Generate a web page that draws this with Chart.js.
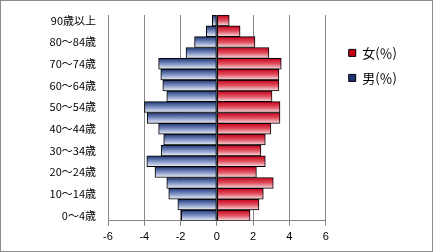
<!DOCTYPE html>
<html>
<head>
<meta charset="utf-8">
<script src="https://cdn.jsdelivr.net/npm/chart.js@4/dist/chart.umd.min.js"></script>
<style>
  body { margin: 0; background: #fff; }
  #box { width: 433px; height: 252px; border: 1px solid #8c8c8c; box-sizing: border-box; }
  canvas { display: block; }
</style>
</head>
<body>
<div id="box"><canvas id="myChart" width="431" height="250"></canvas></div>
<script>
'use strict';

let ageGroups = ['0～4歳', '5～9歳', '10～14歳', '15～19歳', '20～24歳', '25～29歳',
    '30～34歳', '35～39歳', '40～44歳', '45～49歳', '50～54歳', '55～59歳',
    '60～64歳', '65～69歳', '70～74歳', '75～79歳', '80～84歳', '85～89歳', '90歳以上'];

let maleValues = [-1.96, -2.15, -2.65, -2.76, -3.41, -3.86, -3.07, -2.93, -3.21, -3.84,
    -3.99, -2.76, -2.98, -3.09, -3.21, -1.70, -1.23, -0.58, -0.25];

let femaleValues = [1.83, 2.32, 2.56, 3.11, 2.18, 2.67, 2.43, 2.67, 2.98, 3.48,
    3.48, 3.04, 3.42, 3.42, 3.55, 2.87, 2.10, 1.28, 0.68];

let xTicks = [-6, -4, -2, 0, 2, 4, 6];

let blueStops = ['#1d3574', '#7d90c2', '#eef1f8'];
let redStops = ['#c4001a', '#e0505f', '#f9e0e3'];

function barGradient(stops, solid) {
    return function (ctx) {
        let chart = ctx.chart;
        let y = chart.scales.y;
        if (ctx.type !== 'data' || !y || !chart.chartArea) {
            return solid;
        }
        let c = y.getPixelForValue(ctx.dataIndex);
        let h = y.height / ageGroups.length;
        let g = chart.ctx.createLinearGradient(0, c - h / 2, 0, c + h / 2);
        g.addColorStop(0, stops[0]);
        g.addColorStop(0.5, stops[1]);
        g.addColorStop(1, stops[2]);
        return g;
    };
}

// nudge the legend a bit away from the plot, like the original
let legendShift = {
    id: 'legendShift',
    afterLayout: function (chart) {
        chart.legend.left += 11;
        chart.legend.right += 11;
    }
};

let ctx = document.getElementById('myChart').getContext('2d');
let myChart = new Chart(ctx, {
    type: 'bar',
    data: {
        labels: ageGroups,
        datasets: [{
            label: '男(％)',
            data: maleValues,
            backgroundColor: barGradient(blueStops, '#6478b0'),
            borderColor: '#000',
            borderWidth: 1,
            borderSkipped: false,
            categoryPercentage: 1,
            barPercentage: 1
        }, {
            label: '女(％)',
            data: femaleValues,
            backgroundColor: barGradient(redStops, '#d84858'),
            borderColor: '#000',
            borderWidth: 1,
            borderSkipped: false,
            categoryPercentage: 1,
            barPercentage: 1
        }]
    },
    options: {
        indexAxis: 'y',
        responsive: false,
        animation: false,
        layout: {
            padding: { top: 14, left: 0, right: 36, bottom: 2 }
        },
        scales: {
            x: {
                min: -6,
                max: 6,
                afterBuildTicks: function (scale) {
                    scale.ticks = xTicks.map(function (v) { return { value: v }; });
                },
                grid: { color: '#868686', tickLength: 5, drawTicks: true },
                border: { color: '#868686' },
                ticks: {
                    color: '#000',
                    padding: 5,
                    font: { family: 'Liberation Sans', size: 11 }
                }
            },
            y: {
                stacked: true,
                reverse: true,
                grid: { display: false, drawTicks: false },
                border: { display: false },
                afterFit: function (scale) {
                    scale.width = 107;
                    scale.paddingTop = 0;
                    scale.paddingBottom = 0;
                },
                ticks: {
                    autoSkip: false,
                    color: '#000',
                    padding: 12,
                    font: { family: 'Noto Sans CJK JP', size: 11 },
                    callback: function (value, index) {
                        return index % 2 === 0 ? ageGroups[index] : '';
                    }
                }
            }
        },
        plugins: {
            tooltip: { enabled: false },
            legend: {
                position: 'right',
                align: 'start',
                reverse: true,
                title: { display: true, text: ' ', padding: { top: 5 } },
                labels: {
                    boxWidth: 7,
                    boxHeight: 7,
                    padding: 12,
                    color: '#000',
                    font: { family: 'Noto Sans CJK JP', size: 13 }
                }
            }
        }
    },
    plugins: [legendShift]
});
</script>
</body>
</html>
